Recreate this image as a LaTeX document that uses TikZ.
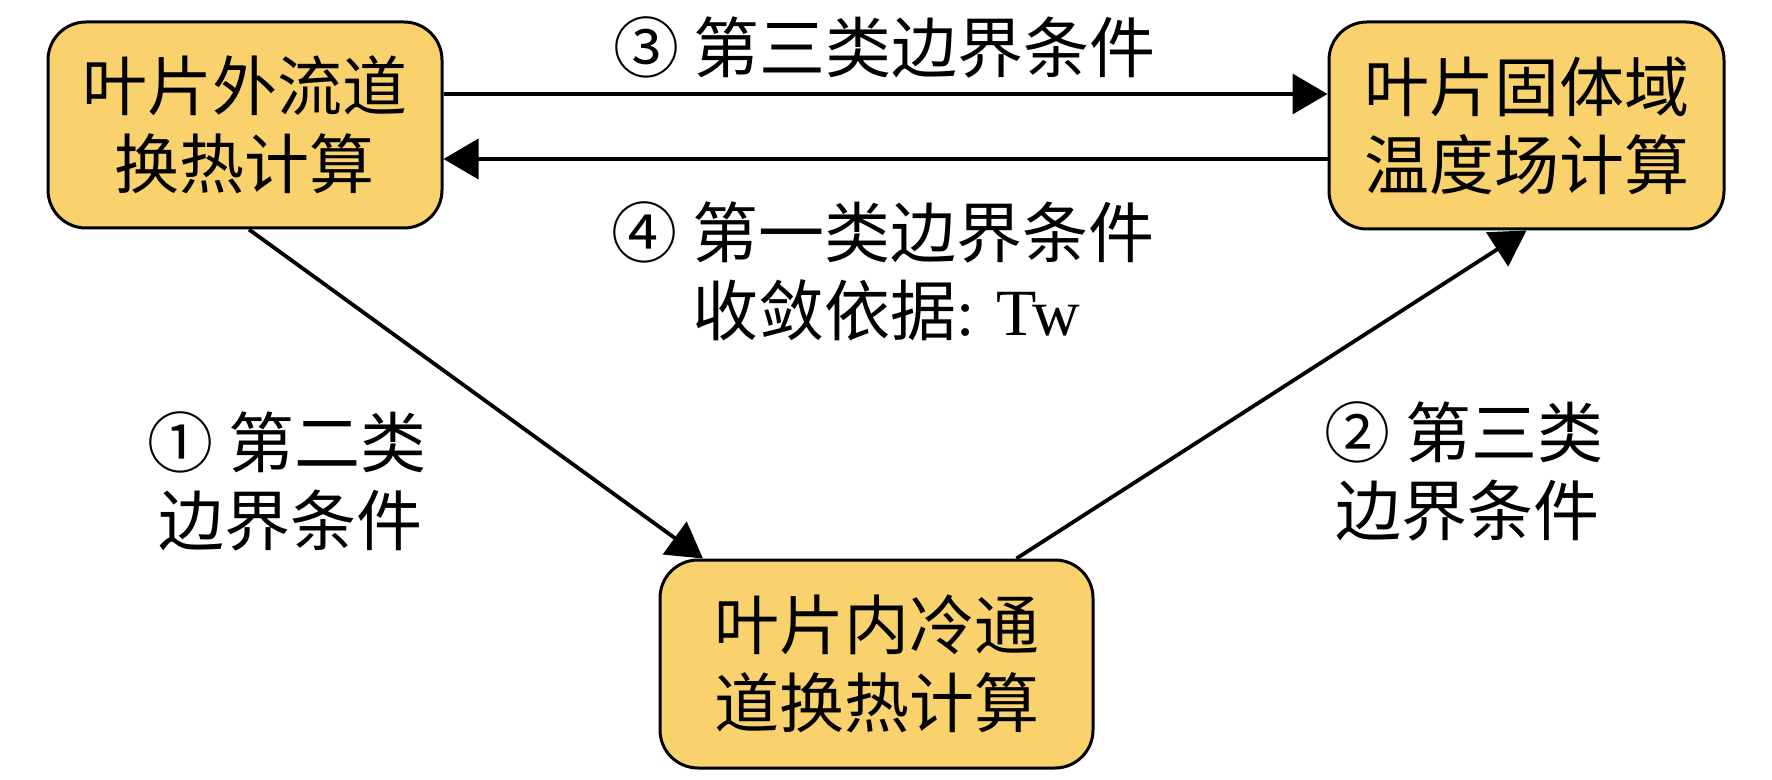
\documentclass[tikz,border=0pt]{standalone}
\usepackage{fontspec}
\setmainfont{Noto Sans CJK SC}
\newfontfamily\lat{Liberation Serif}
\usetikzlibrary{arrows.meta}
\definecolor{boxfill}{RGB}{249,210,110}
\tikzset{
  box/.style={draw=black, line width=1.5pt, fill=boxfill, rounded corners=19pt,
    align=center, inner sep=0pt, font=\fontsize{32.5pt}{39pt}\selectfont},
  lbl/.style={align=left, inner sep=0pt, font=\fontsize{33pt}{39pt}\selectfont},
  arr/.style={line width=1.9pt, -{Triangle[length=17.5pt,width=20pt]}}
}
\begin{document}
\begin{tikzpicture}[x=0.5pt,y=-0.5pt]
\useasboundingbox (0,0) rectangle (1772,780);
\node[box, minimum width=197pt, minimum height=103pt] (A) at (245,125) {叶片外流道\\换热计算};
\node[box, minimum width=197.5pt, minimum height=103.5pt] (B) at (1526.5,125.5) {叶片固体域\\温度场计算};
\node[box, minimum width=216.5pt, minimum height=104pt] (C) at (876.5,664) {叶片内冷通\\道换热计算};
\draw[arr] ([yshift=15.5pt]A.east) -- ([yshift=15.75pt]B.west);
\draw[arr] ([yshift=-16.75pt]B.west) -- ([yshift=-17pt]A.east);
\draw[arr] ([xshift=2pt]A.south) -- ([xshift=-86.75pt]C.north);
\draw[arr] ([xshift=70pt]C.north) -- (B.south);
\node[lbl] (L3) at (884.5,47) {③ 第三类边界条件};
\node[lbl, anchor=west] (L4) at (611,271.5) {④ 第一类边界条件\\\hphantom{④ }收敛依据{\lat: Tw}};
\node[lbl, anchor=west] (L1) at (147,481.5) {① 第二类\\\hphantom{\,}边界条件};
\node[lbl, anchor=west] (L2) at (1324,471.5) {② 第三类\\\hphantom{\,}边界条件};
\end{tikzpicture}
\end{document}
